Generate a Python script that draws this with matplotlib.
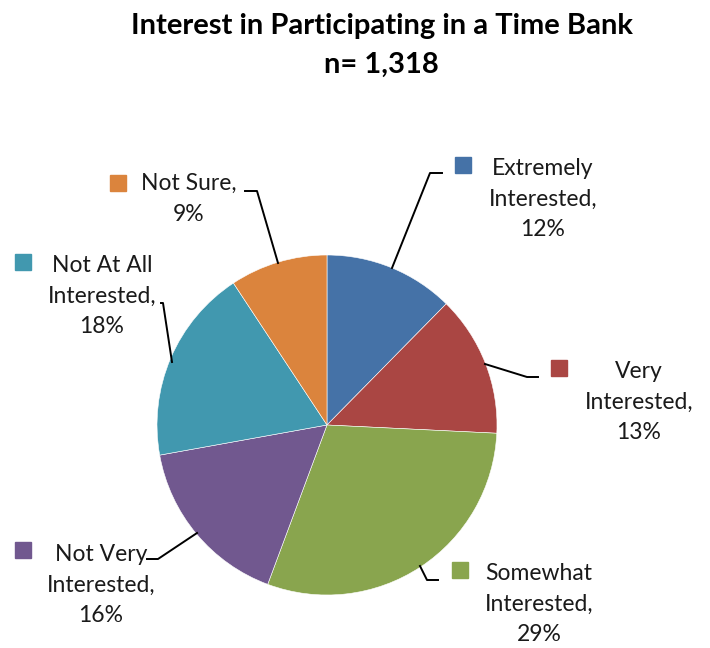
import numpy as np
import matplotlib.pyplot as plt

# Survey answers, clockwise from 12 o'clock
categories = ["Extremely Interested", "Very Interested", "Somewhat Interested",
              "Not Very Interested", "Not At All Interested", "Not Sure"]
percents = [12, 13, 29, 16, 18, 9]
label_text = ["Extremely\nInterested,\n12%", "Very\nInterested,\n13%",
              "Somewhat\nInterested,\n29%", "Not Very\nInterested,\n16%",
              "Not At All\nInterested,\n18%", "Not Sure,\n9%"]
colors = ["#4572A7", "#AA4643", "#89A54E", "#71588F", "#4198AF", "#DB843D"]

W, H = 710, 648
fig = plt.figure(figsize=(W / 100, H / 100), dpi=100)
ax = fig.add_axes([0, 0, 1, 1])

plt.rcParams["font.family"] = ["Lato", "DejaVu Sans"]

def Y(y):
    # screen-style y (down) to axis y (up)
    return H - y

cx, cy, r = 327, 425, 170
ax.pie(percents, colors=colors, startangle=90, counterclock=False,
       center=(cx, Y(cy)), radius=r, frame=True,
       wedgeprops=dict(edgecolor="white", linewidth=0.4))
ax.set_xlim(0, W)
ax.set_ylim(0, H)
ax.set_aspect("equal")
ax.axis("off")

# label block centre, legend square, leader line path
text_pos = [(543, 199), (639, 402), (539, 604), (101, 585), (102, 296), (189, 199)]
key_pos = [(463, 165), (559, 368), (460, 570), (23, 550), (23, 262), (118, 183)]
leaders = [
    [(442, 173), (430, 173), (392, 268)],
    [(538, 377), (527, 377), (485, 364)],
    [(438, 580), (427, 580), (420, 566)],
    [(147, 559), (158, 559), (197, 533)],
    [(161, 303), (163, 303), (172, 362)],
    [(245, 191), (257, 191), (278, 263)],
]

for txt, (tx, ty), (kx, ky), path, c in zip(label_text, text_pos, key_pos, leaders, colors):
    ax.text(tx, Y(ty), txt, ha="center", va="center", fontsize=16.5,
            linespacing=1.58, color="#1a1a1a")
    ax.plot(kx, Y(ky), marker="s", markersize=11, color=c, linestyle="none")
    xs, ys = zip(*path)
    ax.plot(xs, [Y(v) for v in ys], color="black", linewidth=1.4)

ax.text(382, Y(26), "Interest in Participating in a Time Bank", ha="center",
        va="center", fontsize=21, fontweight="bold")
ax.text(381, Y(65), "n= 1,318", ha="center", va="center", fontsize=21,
        fontweight="bold")

fig.savefig("out.png", dpi=100)
